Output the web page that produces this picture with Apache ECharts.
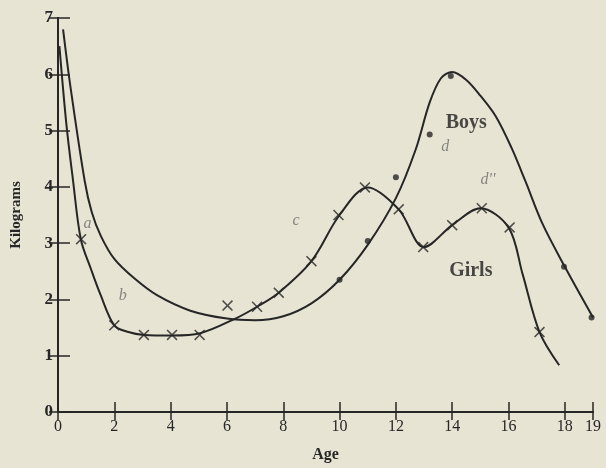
<!DOCTYPE html>
<html>
<head>
<meta charset="utf-8">
<script src="https://cdn.jsdelivr.net/npm/echarts@6/dist/echarts.min.js"></script>
<style>
  html, body { margin: 0; padding: 0; background: #e8e4d3; }
  #chart { width: 606px; height: 468px; }
</style>
</head>
<body>
<div id="chart"></div>
<script>
  // smooth curves, [age, kg]
  var boysCurve = [
    [0.18, 6.8], [0.45, 5.75], [0.95, 4.1], [1.2, 3.55], [1.52, 3.13],
    [2.0, 2.72], [2.72, 2.37], [3.53, 2.07], [4.7, 1.8], [6, 1.66], [7, 1.63], [8, 1.7],
    [9, 1.93], [10, 2.35], [11, 2.97], [12, 3.8], [12.7, 4.66], [13.2, 5.5],
    [13.6, 5.93], [14, 6.04], [14.5, 5.9], [15, 5.62], [15.55, 5.25], [16.1, 4.7],
    [16.6, 4.1], [17.2, 3.35], [18, 2.58], [19, 1.68]
  ];
  var girlsCurve = [
    [0.05, 6.5], [0.3, 5.1], [0.53, 4.13], [0.81, 3.07], [1.17, 2.54], [1.52, 2.07],
    [2, 1.54], [2.5, 1.42], [3.05, 1.37], [4.05, 1.36], [5.05, 1.4], [6.3, 1.66],
    [7.07, 1.87], [7.84, 2.12], [9, 2.68], [10, 3.5], [11, 3.99], [12.1, 3.6],
    [13, 2.93], [14, 3.32], [15, 3.62], [16, 3.28], [16.5, 2.45],
    [17.1, 1.42], [17.8, 0.83]
  ];
  // observed points
  var boysDots = [
    [10, 2.35], [11, 3.04], [12, 4.17], [13.2, 4.93], [13.95, 5.97], [17.97, 2.58], [18.95, 1.68]
  ];
  var girlsCrosses = [
    [0.82, 3.07], [2, 1.54], [3.05, 1.37], [4.05, 1.37], [5.03, 1.37], [6.02, 1.89],
    [7.07, 1.87], [7.84, 2.12], [9, 2.68], [9.96, 3.5], [10.9, 3.99], [12.1, 3.6],
    [12.97, 2.93], [14, 3.32], [15.05, 3.62], [16.04, 3.28], [17.1, 1.42]
  ];
  // letter notes and curve names
  var letterNotes = [
    [1.05, 3.35, 'a'], [2.3, 2.07, 'b'], [8.45, 3.39, 'c'], [13.75, 4.72, 'd'], [15.27, 4.13, "d''"]
  ];
  var curveNames = [[14.5, 5.14, 'Boys'], [14.66, 2.51, 'Girls']];

  var ink = '#262626';
  var serif = '"Liberation Serif", "DejaVu Serif", serif';
  var crossPath = 'path://M0,1L1,0L5,4L9,0L10,1L6,5L10,9L9,10L5,6L1,10L0,9L4,5Z';

  var chart = echarts.init(document.getElementById('chart'));

  var option = {
    backgroundColor: '#e8e4d3',
    animation: false,
    grid: { left: 58, right: 13, top: 18, bottom: 54 },
    xAxis: [
      {
        type: 'value', min: 0, max: 19, interval: 2,
        name: 'Age', nameLocation: 'middle', nameGap: 35,
        nameTextStyle: { fontFamily: serif, fontSize: 16, color: ink, fontWeight: 'bold' },
        axisLine: { lineStyle: { color: ink, width: 2 } },
        axisTick: { inside: true, length: 10, lineStyle: { color: ink, width: 1.5 } },
        axisLabel: { fontFamily: serif, fontSize: 16, color: ink, margin: 7 },
        splitLine: { show: false }
      },
      {
        type: 'value', min: 0, max: 19, interval: 2, position: 'top',
        axisLine: { show: true, lineStyle: { color: ink, width: 2 } },
        axisTick: { inside: true, length: 8, lineStyle: { color: ink, width: 1.5 } },
        axisLabel: { show: false },
        splitLine: { show: false }
      }
    ],
    yAxis: [
      {
        type: 'value', min: 0, max: 7, interval: 1,
        name: 'Kilograms', nameLocation: 'middle', nameGap: 34,
        nameTextStyle: { fontFamily: serif, fontSize: 15, color: ink, fontWeight: 'bold' },
        axisLine: { show: true, lineStyle: { color: ink, width: 2 } },
        axisTick: { show: true, inside: true, length: 12, lineStyle: { color: ink, width: 1.5 } },
        axisLabel: { fontFamily: serif, fontSize: 17, color: ink, fontWeight: 'bold', margin: 5 },
        splitLine: { show: false }
      },
      {
        type: 'value', min: 0, max: 7, interval: 1, position: 'right',
        axisLine: { show: true, lineStyle: { color: ink, width: 2 } },
        axisTick: { show: true, inside: true, length: 9, lineStyle: { color: ink, width: 1.5 } },
        axisLabel: { show: false },
        splitLine: { show: false }
      }
    ],
    series: [
      {
        type: 'line', data: boysCurve, smooth: 0.33, showSymbol: false,
        lineStyle: { color: ink, width: 2 }
      },
      {
        type: 'line', data: girlsCurve, smooth: 0.33, showSymbol: false,
        lineStyle: { color: ink, width: 2 }
      },
      {
        type: 'scatter', data: boysDots, symbol: 'circle', symbolSize: 6,
        itemStyle: { color: ink }
      },
      {
        type: 'scatter', data: girlsCrosses, symbol: crossPath, symbolSize: 11,
        itemStyle: { color: ink }
      },
      {
        type: 'scatter', data: letterNotes, symbolSize: 0,
        label: {
          show: true, position: 'inside', formatter: function (p) { return p.data[2]; },
          fontFamily: serif, fontStyle: 'italic', fontSize: 16, color: '#6b6b6b'
        }
      },
      {
        type: 'scatter', data: curveNames, symbolSize: 0,
        label: {
          show: true, position: 'inside', formatter: function (p) { return p.data[2]; },
          fontFamily: serif, fontWeight: 'bold', fontSize: 20, color: '#1e1e1e'
        }
      }
    ]
  };

  option && chart.setOption(option);
</script>
</body>
</html>
